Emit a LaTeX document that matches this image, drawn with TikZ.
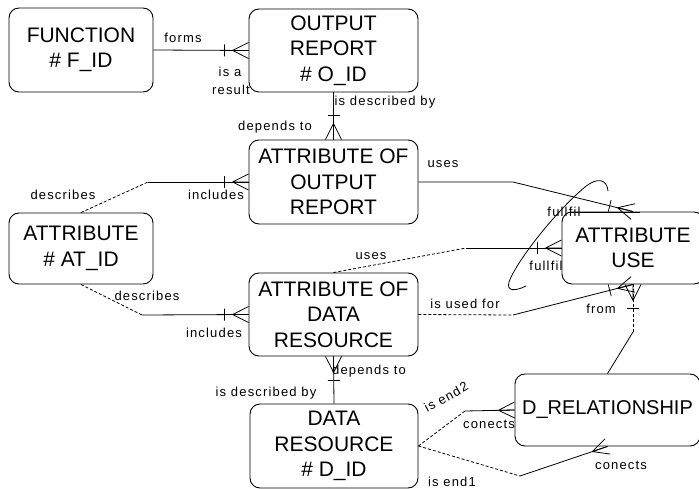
\documentclass[tikz,border=0pt]{standalone}
\usepackage{fontspec}
\setmainfont{Liberation Sans}
\newfontfamily\lblfont[LetterSpace=9]{Liberation Sans}
\usetikzlibrary{calc}

\tikzset{
  entity/.style={draw, rounded corners=10pt, line width=0.9pt, align=center,
    inner sep=0pt, font=\fontsize{21}{25.5}\selectfont},
  rel/.style={line width=0.8pt},
  opt/.style={line width=0.8pt, dash pattern=on 3pt off 2pt},
  lbl/.style={font=\lblfont\fontsize{13}{15}\selectfont, inner sep=0pt},
}

% crow's foot at end #1 of a connector that comes from #2
\newcommand{\crowend}[2]{%
  \draw[rel] ($(#1)!16pt!(#2)$) -- ($(#1)!8pt!90:(#2)$)
             ($(#1)!16pt!(#2)$) -- ($(#1)!8pt!-90:(#2)$)
             ($(#1)!16pt!(#2)$) -- (#1);}
% cross bar near end #1 of a connector that comes from #2
\newcommand{\onebar}[2]{%
  \draw[rel] ($(#1)!24pt!(#2)!6pt!90:(#2)$) -- ($(#1)!24pt!(#2)!6pt!-90:(#2)$);}

\begin{document}
\begin{tikzpicture}[x=1pt,y=-1pt]
\useasboundingbox (0,0) rectangle (699,489);
\clip (0,0) rectangle (699,489);

% entities
\node[entity, minimum width=144pt, minimum height=84pt] (fn) at (81,50) {FUNCTION\\\# F\_ID};
\node[entity, minimum width=169pt, minimum height=83pt] (orep) at (333.5,50.5) {OUTPUT\\REPORT\\\# O\_ID};
\node[entity, minimum width=169pt, minimum height=84pt] (aor) at (333.5,182) {ATTRIBUTE OF\\OUTPUT\\REPORT};
\node[entity, minimum width=144pt, minimum height=71pt] (attr) at (81,248.5) {ATTRIBUTE\\\# AT\_ID};
\node[entity, minimum width=169pt, minimum height=83pt] (adr) at (333.5,314.5) {ATTRIBUTE OF\\DATA\\RESOURCE};
\node[entity, minimum width=168pt, minimum height=84pt] (dr) at (334,446) {DATA\\RESOURCE\\\# D\_ID};
\node[entity, minimum width=142pt, minimum height=72pt] (au) at (633,248) {ATTRIBUTE\\USE};
\node[entity, minimum width=185pt, minimum height=72pt, font=\fontsize{20}{24}\selectfont] (drel) at (607.5,410) {D\_RELATIONSHIP};

% bend points
\coordinate (b3) at (148,182);
\coordinate (b4) at (142,315);
\coordinate (b5) at (513,182);
\coordinate (b6) at (466,248);
\coordinate (b7) at (513,315);
\coordinate (b8) at (633,332);
\coordinate (b9) at (465,411);
\coordinate (b10) at (520,476);

% FUNCTION -- OUTPUT REPORT
\draw[rel] (fn.east) -- (orep.west);
\crowend{orep.west}{fn.east}\onebar{orep.west}{fn.east}

% OUTPUT REPORT -- ATTRIBUTE OF OUTPUT REPORT
\draw[rel] (orep.south) -- (aor.north);
\crowend{aor.north}{orep.south}\onebar{aor.north}{orep.south}

% ATTRIBUTE -- ATTRIBUTE OF OUTPUT REPORT
\draw[opt] (attr.north) -- (b3);
\draw[rel] (b3) -- (aor.west);
\crowend{aor.west}{b3}\onebar{aor.west}{b3}

% ATTRIBUTE -- ATTRIBUTE OF DATA RESOURCE
\draw[opt] (attr.south) -- (b4);
\draw[rel] (b4) -- (adr.west);
\crowend{adr.west}{b4}\onebar{adr.west}{b4}

% ATTRIBUTE OF OUTPUT REPORT -- ATTRIBUTE USE
\draw[rel] (aor.east) -- (b5) -- (au.north);
\crowend{au.north}{b5}\onebar{au.north}{b5}

% ATTRIBUTE OF DATA RESOURCE -- ATTRIBUTE USE (uses)
\draw[opt] (adr.north) -- (b6);
\draw[rel] (b6) -- (au.west);
\crowend{au.west}{b6}\onebar{au.west}{b6}

% ATTRIBUTE OF DATA RESOURCE -- ATTRIBUTE USE (is used for)
\draw[opt] (adr.east) -- (b7);
\draw[rel] (b7) -- (au.south);
\crowend{au.south}{b7}\onebar{au.south}{b7}

% ATTRIBUTE USE -- D_RELATIONSHIP
\draw[opt] (au.south) -- (b8);
\draw[rel] (b8) -- (drel.north);
\crowend{au.south}{b8}\onebar{au.south}{b8}

% ATTRIBUTE OF DATA RESOURCE -- DATA RESOURCE
\draw[rel] (adr.south) -- (dr.north);
\crowend{adr.south}{dr.north}\onebar{adr.south}{dr.north}

% DATA RESOURCE -- D_RELATIONSHIP (two ends)
\draw[opt] (dr.east) -- (b9);
\draw[rel] (b9) -- (drel.west);
\crowend{drel.west}{b9}
\draw[opt] (dr.east) -- (b10);
\draw[rel] (b10) -- (drel.south);
\crowend{drel.south}{b10}

% exclusive arc across the two "uses" ends
\draw[rel] (608,191) .. controls (607,179) and (597,177) .. (585,187)
  .. controls (555,212) and (516,262) .. (509,282)
  .. controls (506,292) and (516,291) .. (526,286);
\draw[rel] (568,212.5) -- (640,212.5);

% role labels
\node[lbl] (l1) at (183,38) {forms};
\node[lbl] (l2) at (230,72) {is a};
\node[lbl] (l3) at (231,90) {result};
\node[lbl] (l4) at (385,102) {is described by};
\node[lbl] (l5) at (275,127) {depends to};
\node[lbl] (l6) at (63,195) {describes};
\node[lbl] (l7) at (216,195) {includes};
\node[lbl] (l8) at (147,296) {describes};
\node[lbl] (l9) at (214,333) {includes};
\node[lbl] (l10) at (443,164) {uses};
\node[lbl] (l11) at (371,256) {uses};
\node[lbl] (l12) at (564,212) {fullfil};
\node[lbl] (l13) at (546,266) {fullfil};
\node[lbl] (l14) at (465,304) {is used for};
\node[lbl] (l15) at (601,309) {from};
\node[lbl] (l16) at (369,371) {depends to};
\node[lbl] (l17) at (266,393) {is described by};
\node[lbl, rotate=29] (l18) at (446,397) {is end2};
\node[lbl] (l19) at (489,424) {conects};
\node[lbl] (l20) at (621,465) {conects};
\node[lbl] (l21) at (452,482) {is end1};
\end{tikzpicture}
\end{document}
